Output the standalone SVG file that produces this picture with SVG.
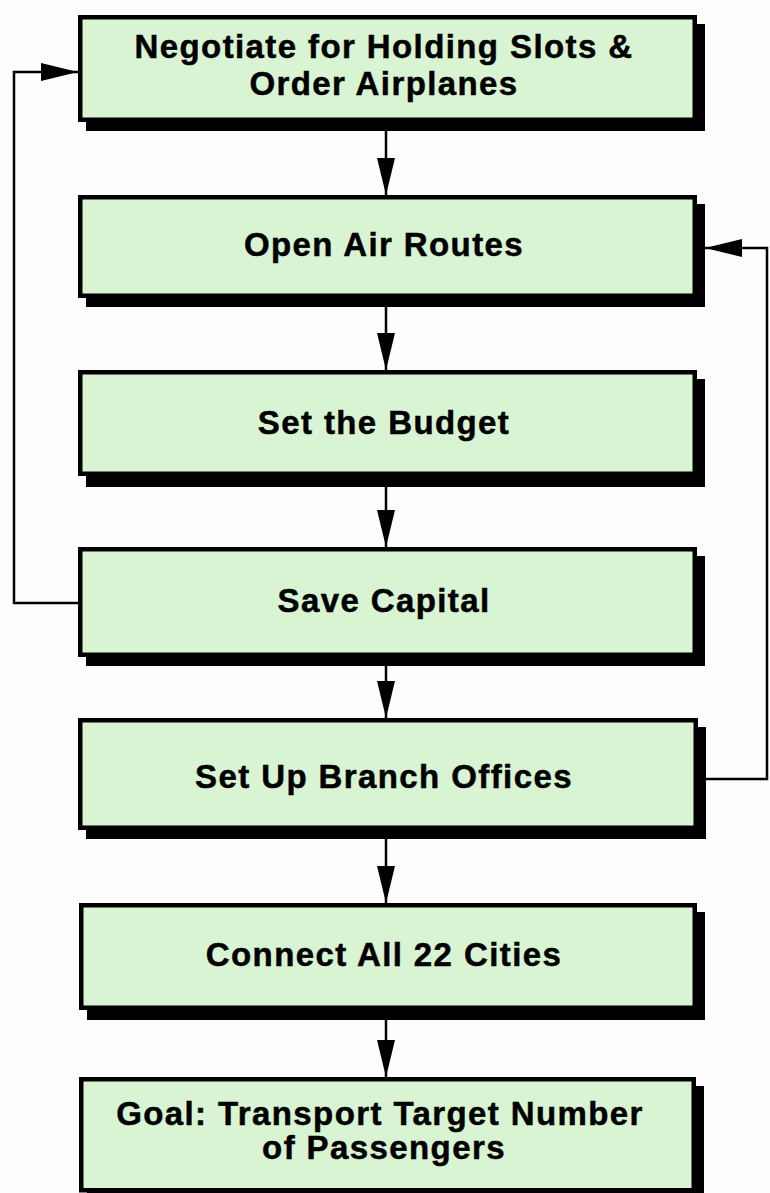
<svg xmlns="http://www.w3.org/2000/svg" width="770" height="1193" viewBox="0 0 770 1193">
<defs>
<style>
.bg{fill:#fdfdfd}
.shadow{fill:#000}
.box{fill:#d8f4d2;stroke:#000;stroke-width:4.5}
.lbl{font-family:"Liberation Sans",Arial,Helvetica,sans-serif;font-weight:bold;font-size:33px;letter-spacing:1.4px;fill:#000;stroke:#000;stroke-width:0.5;text-anchor:middle}
.conn{fill:none;stroke:#000;stroke-width:2.5}
</style>
<marker id="ah" markerUnits="userSpaceOnUse" markerWidth="38" markerHeight="19" refX="37" refY="9" orient="auto">
<path d="M0,0 L37,9 L0,18 Z" fill="#000"/>
</marker>
</defs>
<rect class="bg" x="0" y="0" width="770" height="1193"/>

<g id="connectors">
<line class="conn" x1="386" y1="122" x2="386" y2="195" marker-end="url(#ah)"/>
<line class="conn" x1="386" y1="298" x2="386" y2="370" marker-end="url(#ah)"/>
<line class="conn" x1="386" y1="476" x2="386" y2="547" marker-end="url(#ah)"/>
<line class="conn" x1="386" y1="657" x2="386" y2="718" marker-end="url(#ah)"/>
<line class="conn" x1="386" y1="830" x2="386" y2="903" marker-end="url(#ah)"/>
<line class="conn" x1="386" y1="1010" x2="386" y2="1077" marker-end="url(#ah)"/>
<polyline class="conn" points="78,603 14,603 14,72 78,72" marker-end="url(#ah)"/>
<polyline class="conn" points="705,779 767,779 767,248 705,248" marker-end="url(#ah)"/>
</g>

<g id="node1">
<rect class="shadow" x="86" y="24" width="619" height="107"/>
<rect class="box" x="80.25" y="17.25" width="614.5" height="102.5"/>
<text class="lbl" x="384" y="58">Negotiate for Holding Slots &amp;</text>
<text class="lbl" x="384" y="95">Order Airplanes</text>
</g>

<g id="node2">
<rect class="shadow" x="86" y="204" width="619" height="103"/>
<rect class="box" x="80.25" y="197.25" width="614.5" height="98.5"/>
<text class="lbl" x="384" y="256">Open Air Routes</text>
</g>

<g id="node3">
<rect class="shadow" x="86" y="379" width="619" height="108"/>
<rect class="box" x="80.25" y="372.25" width="614.5" height="101.5"/>
<text class="lbl" x="384" y="434">Set the Budget</text>
</g>

<g id="node4">
<rect class="shadow" x="86" y="556" width="619" height="110"/>
<rect class="box" x="80.25" y="549.25" width="614.5" height="105.5"/>
<text class="lbl" x="384" y="612">Save Capital</text>
</g>

<g id="node5">
<rect class="shadow" x="86" y="727" width="620" height="112"/>
<rect class="box" x="80.25" y="720.25" width="615.5" height="107.5"/>
<text class="lbl" x="384" y="788">Set Up Branch Offices</text>
</g>

<g id="node6">
<rect class="shadow" x="87" y="912" width="618" height="108"/>
<rect class="box" x="81.25" y="905.25" width="613.5" height="102.5"/>
<text class="lbl" x="384" y="966">Connect All 22 Cities</text>
</g>

<g id="node7">
<rect class="shadow" x="87" y="1086" width="617" height="120"/>
<rect class="box" x="81.25" y="1079.25" width="612.5" height="111"/>
<text class="lbl" x="380" y="1125">Goal: Transport Target Number</text>
<text class="lbl" x="384" y="1159">of Passengers</text>
</g>
</svg>
